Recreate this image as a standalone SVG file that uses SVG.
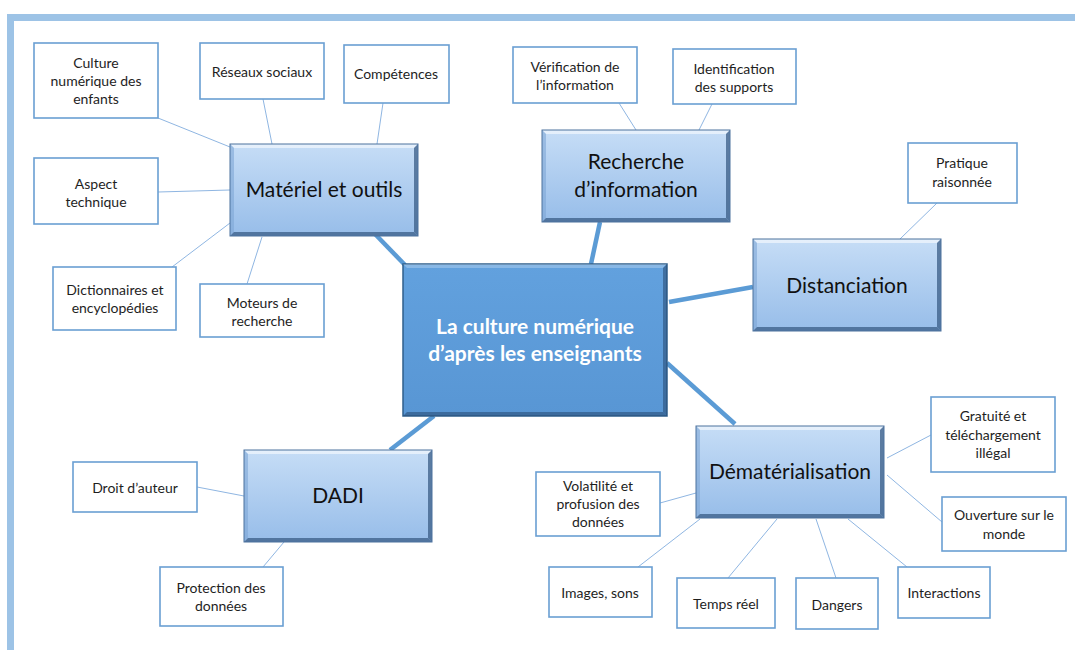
<svg xmlns="http://www.w3.org/2000/svg" xmlns:xlink="http://www.w3.org/1999/xlink" width="1075" height="650" viewBox="0 0 1075 650">
<defs>
<linearGradient id="gMain" x1="0" y1="0" x2="0" y2="1">
<stop offset="0" stop-color="#c6ddf6"/>
<stop offset="1" stop-color="#97bde9"/>
</linearGradient>
<linearGradient id="gCenter" x1="0" y1="0" x2="0" y2="1">
<stop offset="0" stop-color="#62a1de"/>
<stop offset="1" stop-color="#5896d4"/>
</linearGradient>
<g id="mainbox">
<rect x="0" y="0" width="188" height="92" fill="url(#gMain)"/>
<polygon points="0,0 188,0 184,4 4,4" fill="#ffffff" opacity="0.55"/>
<polygon points="0,0 4,4 4,88 0,92" fill="#7fa6d6" opacity="0.6"/>
<polygon points="188,0 188,92 184,88 184,4" fill="#3a5c86" opacity="0.75"/>
<polygon points="0,92 188,92 184,88 4,88" fill="#3a5c86" opacity="0.75"/>
<rect x="0" y="0" width="188" height="92" fill="none" stroke="#4d729e" stroke-width="1"/>
</g>
</defs>
<style>
.frame{fill:#9dc3e6}
.leaf{fill:#ffffff;stroke:#6a9fd3;stroke-width:1.6}
.lt{font-family:Lato,"Open Sans","Liberation Sans",sans-serif;font-size:14px;fill:#1e1e1e;text-anchor:middle}
.mt{font-family:Lato,"Open Sans","Liberation Sans",sans-serif;font-size:21px;fill:#111111;text-anchor:middle}
.ct{font-family:Lato,"Open Sans","Liberation Sans",sans-serif;font-size:21px;font-weight:bold;fill:#ffffff;text-anchor:middle}
.thin{stroke:#8fb6e2;stroke-width:1;fill:none}
.thick{stroke:#5b9bd5;stroke-width:4.5;fill:none}
</style>
<rect width="1075" height="650" fill="#ffffff"/>
<rect class="frame" x="7" y="14" width="1068" height="7"/>
<rect class="frame" x="7" y="14" width="7" height="636"/>

<g id="connectors">
<line class="thin" x1="158" y1="118" x2="230" y2="147"/>
<line class="thin" x1="263" y1="99" x2="272" y2="144"/>
<line class="thin" x1="383" y1="103" x2="377" y2="144"/>
<line class="thin" x1="158" y1="192" x2="230" y2="190"/>
<line class="thin" x1="172" y1="267" x2="230" y2="223"/>
<line class="thin" x1="247" y1="284" x2="262" y2="237"/>
<line class="thin" x1="619" y1="103" x2="636" y2="130"/>
<line class="thin" x1="712" y1="104" x2="699" y2="130"/>
<line class="thin" x1="937" y1="203" x2="900" y2="239"/>
<line class="thin" x1="887" y1="458" x2="931" y2="435"/>
<line class="thin" x1="887" y1="475" x2="942" y2="522"/>
<line class="thin" x1="660" y1="503" x2="696" y2="493"/>
<line class="thin" x1="638" y1="567" x2="700" y2="519"/>
<line class="thin" x1="728" y1="578" x2="777" y2="519"/>
<line class="thin" x1="836" y1="578" x2="816" y2="519"/>
<line class="thin" x1="907" y1="567" x2="848" y2="519"/>
<line class="thin" x1="197" y1="487" x2="244" y2="496"/>
<line class="thin" x1="263" y1="567" x2="284" y2="542"/>
<line class="thick" x1="375" y1="234" x2="405" y2="265"/>
<line class="thick" x1="600" y1="222" x2="591" y2="264"/>
<line class="thick" x1="669" y1="302" x2="753" y2="287"/>
<line class="thick" x1="667" y1="363" x2="735" y2="424"/>
<line class="thick" x1="390" y1="450" x2="434" y2="416"/>
</g>

<g id="center">
<rect x="403" y="264" width="264" height="152" fill="url(#gCenter)" stroke="#2f5f8c" stroke-width="1.5"/>
<polygon points="403,264 667,264 663,268 407,268" fill="#ffffff" opacity="0.25"/>
<polygon points="667,264 667,416 663,412 663,268" fill="#2a4f78" opacity="0.6"/>
<polygon points="403,416 667,416 663,412 407,412" fill="#2a4f78" opacity="0.6"/>
<text class="ct" x="535" y="334">La culture numérique</text>
<text class="ct" x="535" y="361">d’après les enseignants</text>
</g>

<g id="materiel">
<use xlink:href="#mainbox" x="230" y="144"/>
<text class="mt" x="324" y="197">Matériel et outils</text>
</g>
<g id="recherche">
<use xlink:href="#mainbox" x="542" y="130"/>
<text class="mt" x="636" y="169">Recherche</text>
<text class="mt" x="636" y="197">d’information</text>
</g>
<g id="distanciation">
<use xlink:href="#mainbox" x="753" y="239"/>
<text class="mt" x="847" y="293">Distanciation</text>
</g>
<g id="dadi">
<use xlink:href="#mainbox" x="244" y="450"/>
<text class="mt" x="338" y="503">DADI</text>
</g>
<g id="dematerialisation">
<use xlink:href="#mainbox" x="696" y="426"/>
<text class="mt" x="790" y="479">Dématérialisation</text>
</g>

<g id="culture-enfants">
<rect class="leaf" x="34" y="43" width="124" height="75"/>
<text class="lt" x="96" y="68">Culture</text>
<text class="lt" x="96" y="86">numérique des</text>
<text class="lt" x="96" y="104">enfants</text>
</g>
<g id="reseaux">
<rect class="leaf" x="200" y="43" width="124" height="56"/>
<text class="lt" x="262" y="77">Réseaux sociaux</text>
</g>
<g id="competences">
<rect class="leaf" x="344" y="45" width="105" height="58"/>
<text class="lt" x="396" y="79">Compétences</text>
</g>
<g id="aspect">
<rect class="leaf" x="34" y="158" width="124" height="66"/>
<text class="lt" x="96" y="189">Aspect</text>
<text class="lt" x="96" y="207">technique</text>
</g>
<g id="dictionnaires">
<rect class="leaf" x="53" y="267" width="123" height="63"/>
<text class="lt" x="115" y="295">Dictionnaires et</text>
<text class="lt" x="115" y="313">encyclopédies</text>
</g>
<g id="moteurs">
<rect class="leaf" x="200" y="284" width="124" height="53"/>
<text class="lt" x="262" y="308">Moteurs de</text>
<text class="lt" x="262" y="326">recherche</text>
</g>
<g id="verification">
<rect class="leaf" x="513" y="47" width="124" height="56"/>
<text class="lt" x="575" y="72">Vérification de</text>
<text class="lt" x="575" y="90">l’information</text>
</g>
<g id="identification">
<rect class="leaf" x="673" y="49" width="123" height="55"/>
<text class="lt" x="734" y="74">Identification</text>
<text class="lt" x="734" y="92">des supports</text>
</g>
<g id="pratique">
<rect class="leaf" x="908" y="143" width="109" height="60"/>
<text class="lt" x="962" y="168">Pratique</text>
<text class="lt" x="962" y="187">raisonnée</text>
</g>
<g id="gratuite">
<rect class="leaf" x="931" y="397" width="124" height="75"/>
<text class="lt" x="993" y="421">Gratuité et</text>
<text class="lt" x="993" y="440">téléchargement</text>
<text class="lt" x="993" y="458">illégal</text>
</g>
<g id="ouverture">
<rect class="leaf" x="942" y="497" width="124" height="54"/>
<text class="lt" x="1004" y="520">Ouverture sur le</text>
<text class="lt" x="1004" y="539">monde</text>
</g>
<g id="volatilite">
<rect class="leaf" x="536" y="472" width="124" height="64"/>
<text class="lt" x="598" y="491">Volatilité et</text>
<text class="lt" x="598" y="509">profusion des</text>
<text class="lt" x="598" y="527">données</text>
</g>
<g id="images">
<rect class="leaf" x="549" y="567" width="103" height="50"/>
<text class="lt" x="600" y="598">Images, sons</text>
</g>
<g id="temps">
<rect class="leaf" x="677" y="578" width="98" height="50"/>
<text class="lt" x="726" y="609">Temps réel</text>
</g>
<g id="dangers">
<rect class="leaf" x="796" y="578" width="82" height="51"/>
<text class="lt" x="837" y="610">Dangers</text>
</g>
<g id="interactions">
<rect class="leaf" x="898" y="567" width="92" height="51"/>
<text class="lt" x="944" y="598">Interactions</text>
</g>
<g id="droit">
<rect class="leaf" x="73" y="462" width="124" height="50"/>
<text class="lt" x="135" y="493">Droit d’auteur</text>
</g>
<g id="protection">
<rect class="leaf" x="160" y="567" width="123" height="59"/>
<text class="lt" x="221" y="593">Protection des</text>
<text class="lt" x="221" y="611">données</text>
</g>
</svg>
